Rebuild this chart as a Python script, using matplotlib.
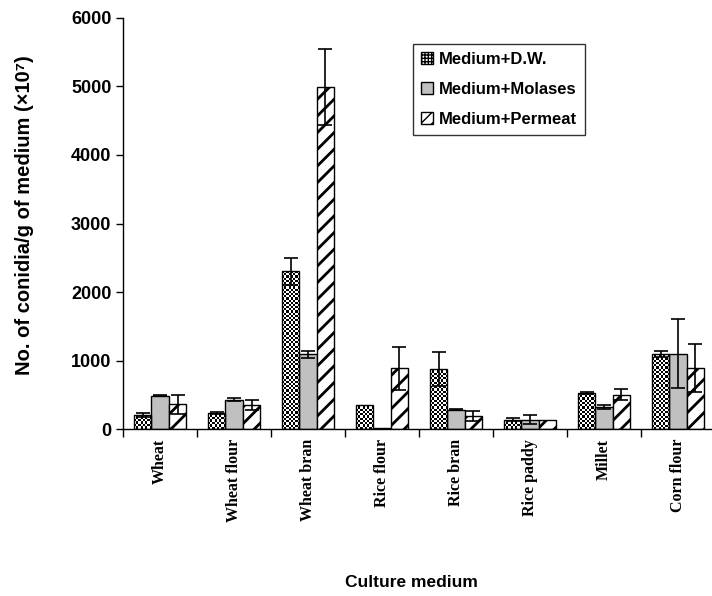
import numpy as np
import matplotlib
matplotlib.use('Agg')
import matplotlib.pyplot as plt
from matplotlib.ticker import FixedLocator
from matplotlib.patches import Rectangle

media = ['Wheat', 'Wheat flour', 'Wheat bran', 'Rice flour', 'Rice bran',
         'Rice paddy', 'Millet', 'Corn flour']
series = ['Medium+D.W.', 'Medium+Molases', 'Medium+Permeat']

dw = [205, 235, 2300, 355, 880, 140, 525, 1100]
dw_err = [25, 20, 190, 0, 245, 15, 15, 45]
molasses = [490, 430, 1090, 20, 285, 140, 325, 1100]
molasses_err = [10, 20, 50, 0, 10, 60, 25, 500]
permeat = [360, 355, 4990, 885, 195, 140, 500, 890]
permeat_err = [145, 70, 550, 310, 70, 0, 80, 355]

sans = ['Liberation Sans', 'DejaVu Sans']
serif = ['Liberation Serif', 'DejaVu Serif']

fig = plt.figure(figsize=(7.12, 5.96), dpi=100)
ax = fig.add_axes([0.173, 0.28, 0.827, 0.69])
ax.set_xlim(-0.5, 7.46)
ax.set_ylim(0, 6000)

x = np.arange(len(media))
w = 0.235
vals = [dw, molasses, permeat]
errs = [dw_err, molasses_err, permeat_err]

# D.W. bars: checkerboard texture clipped to each bar
cell = 2.2  # pixels per checker cell
for xi, v in zip(x - w, dw):
    bar = ax.bar(xi, v, w, facecolor='none', edgecolor='black', linewidth=1.0, zorder=2.5)[0]
    p0 = ax.transData.transform((xi - w / 2, 0))
    p1 = ax.transData.transform((xi + w / 2, v))
    nx = max(1, int(round((p1[0] - p0[0]) / cell)))
    ny = max(1, int(round((p1[1] - p0[1]) / cell)))
    chk = (np.add.outer(np.arange(ny), np.arange(nx)) % 2).astype(float)
    im = ax.imshow(chk, cmap='gray', vmin=0, vmax=1, interpolation='nearest',
                   extent=(xi - w / 2, xi + w / 2, 0, v), aspect='auto', zorder=2)
    im.set_clip_path(bar)

ax.bar(x, molasses, w, facecolor='#c0c0c0', edgecolor='black', linewidth=1.0, zorder=2)
with plt.rc_context({'hatch.linewidth': 2.0}):
    ax.bar(x + w, permeat, w, facecolor='white', hatch='//', edgecolor='black',
           linewidth=1.0, zorder=2)

for i in range(3):
    e = np.array(errs[i], dtype=float)
    m = e > 0
    ax.errorbar((x + (i - 1) * w)[m], np.array(vals[i])[m], yerr=e[m], fmt='none',
                ecolor='black', elinewidth=1.2, capsize=5, capthick=1.2, zorder=3)

ax.set_aspect('auto')
ax.set_xlim(-0.5, 7.46)
ax.set_ylim(0, 6000)
ax.set_yticks(range(0, 6001, 1000))
ax.set_xticks(x)
ax.set_xticklabels(media, rotation=90, family=serif, fontweight='bold', fontsize=11.5)
ax.xaxis.set_minor_locator(FixedLocator(np.arange(-0.5, 7.6, 1)))
ax.tick_params(axis='x', which='major', length=0, pad=7)
ax.tick_params(axis='x', which='minor', length=6, width=1, direction='out')
ax.tick_params(axis='y', length=5, width=1, direction='out')
for t in ax.get_yticklabels():
    t.set_family(sans)
    t.set_fontweight('bold')
    t.set_fontsize(13)
for s in ['top', 'right']:
    ax.spines[s].set_visible(False)
for s in ['left', 'bottom']:
    ax.spines[s].set_linewidth(1.0)

ax.set_ylabel('No. of conidia/g of medium (\u00d710\u2077)', family=sans,
              fontweight='bold', fontsize=14.5)
ax.yaxis.set_label_coords(-0.152, 0.52)
fig.text(0.578, 0.01, 'Culture medium', family=sans, fontweight='bold',
         fontsize=12.5, ha='center', va='bottom')

# legend proxies
with plt.rc_context({'hatch.linewidth': 1.0}):
    h1 = Rectangle((0, 0), 1, 1, facecolor='white', hatch='+++++', edgecolor='black', linewidth=1.0)
h2 = Rectangle((0, 0), 1, 1, facecolor='#c0c0c0', edgecolor='black', linewidth=1.0)
with plt.rc_context({'hatch.linewidth': 1.5}):
    h3 = Rectangle((0, 0), 1, 1, facecolor='white', hatch='///', edgecolor='black', linewidth=1.0)
leg = ax.legend([h1, h2, h3], series, loc='upper left', bbox_to_anchor=(0.492, 0.937),
                prop={'family': sans, 'weight': 'bold', 'size': 12},
                frameon=True, fancybox=False, shadow=False, edgecolor='black',
                handlelength=0.7, handleheight=0.7, handletextpad=0.35,
                labelspacing=0.9, borderpad=0.5, borderaxespad=0)
leg.get_frame().set_linewidth(1.0)

fig.savefig('out.png', dpi=100)
